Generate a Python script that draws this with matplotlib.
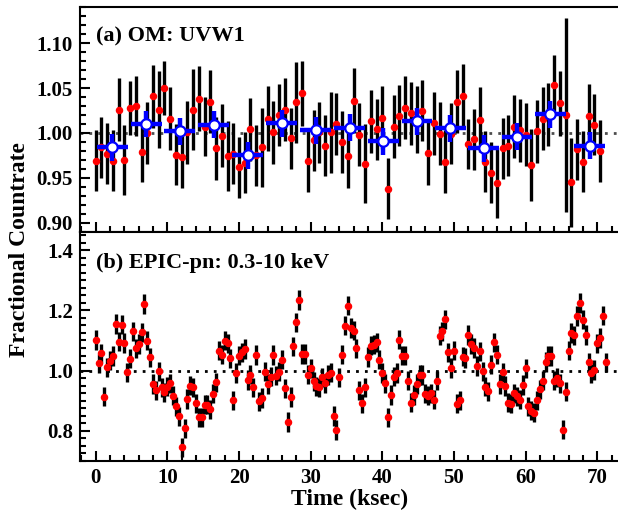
import matplotlib
matplotlib.use("Agg")
import matplotlib.pyplot as plt
from matplotlib.ticker import MultipleLocator, FormatStrFormatter

plt.rcParams['font.family'] = ['Liberation Serif', 'DejaVu Serif']
plt.rcParams['font.weight'] = 'bold'

# (a) OM UVW1 light curve
time_om = [0.0, 0.8, 1.6, 2.4, 3.2, 4.0, 4.8, 5.6, 6.4, 7.2,
           8.0, 8.8, 9.6, 10.4, 11.2, 12.0, 12.8, 13.6, 14.4, 15.2,
           16.0, 16.8, 17.6, 18.4, 19.2, 20.0, 20.8, 21.6, 22.4, 23.2,
           24.0, 24.8, 25.6, 26.4, 27.2, 28.0, 28.8, 29.6, 30.4, 31.2,
           32.0, 32.8, 33.6, 34.4, 35.2, 36.0, 36.8, 37.6, 38.4, 39.2,
           40.0, 40.8, 41.6, 42.4, 43.2, 44.0, 44.8, 45.6, 46.4, 47.2,
           48.0, 48.8, 49.6, 50.4, 51.2, 52.0, 52.8, 53.6, 54.4, 55.2,
           56.0, 56.8, 57.6, 58.4, 59.2, 60.0, 60.8, 61.6, 62.4, 63.2,
           64.0, 64.8, 65.6, 66.4, 67.2, 68.0, 68.8, 69.6, 70.4]
rate_om = [0.969, 0.984, 0.977, 0.969, 1.026, 0.970, 1.028, 1.030, 0.979, 1.000,
           1.041, 1.026, 1.050, 1.016, 0.976, 0.973, 1.001, 1.026, 1.038, 1.007,
           1.035, 0.983, 0.997, 0.974, 0.977, 0.962, 0.967, 1.004, 0.975, 0.984,
           1.016, 1.001, 1.020, 1.026, 0.994, 1.034, 1.044, 0.969, 0.992, 1.001,
           0.986, 1.001, 1.010, 0.990, 0.974, 1.036, 0.998, 0.966, 1.013, 1.004,
           1.017, 0.938, 1.007, 1.019, 1.028, 1.022, 1.015, 1.025, 0.978, 1.011,
           0.999, 0.968, 0.999, 1.035, 1.041, 0.988, 0.993, 1.015, 0.968, 0.956,
           0.944, 0.983, 0.986, 1.007, 1.003, 0.998, 0.964, 1.002, 1.016, 1.021,
           1.053, 1.033, 1.020, 0.945, 0.982, 0.968, 1.019, 1.009, 0.980]
err_om = [0.034, 0.034, 0.034, 0.034, 0.035, 0.039, 0.030, 0.033, 0.034, 0.035,
          0.035, 0.043, 0.030, 0.035, 0.034, 0.034, 0.035, 0.045, 0.036, 0.033,
          0.035, 0.035, 0.035, 0.039, 0.034, 0.034, 0.034, 0.035, 0.034, 0.044,
          0.036, 0.035, 0.035, 0.035, 0.034, 0.045, 0.036, 0.035, 0.034, 0.034,
          0.034, 0.045, 0.035, 0.034, 0.035, 0.036, 0.035, 0.044, 0.035, 0.034,
          0.035, 0.034, 0.035, 0.034, 0.035, 0.035, 0.037, 0.034, 0.036, 0.035,
          0.035, 0.035, 0.034, 0.035, 0.036, 0.028, 0.034, 0.036, 0.034, 0.034,
          0.039, 0.034, 0.034, 0.035, 0.035, 0.035, 0.040, 0.035, 0.035, 0.035,
          0.034, 0.036, 0.108, 0.049, 0.034, 0.034, 0.036, 0.034, 0.034]

# binned OM points
time_bin = [2.32, 7.07, 11.72, 16.46, 21.2, 25.94, 30.68, 35.43, 40.12, 44.86,
            49.5, 54.16, 58.8, 63.46, 68.94]
rate_bin = [0.984, 1.010, 1.002, 1.009, 0.975, 1.011, 1.003, 1.006, 0.991, 1.013,
            1.005, 0.983, 0.996, 1.021, 0.986]
xerr_bin = [2.15, 2.15, 2.15, 2.15, 2.15, 2.15, 2.15, 2.15, 2.15, 2.15,
            2.15, 2.15, 2.15, 2.15, 2.15]
yerr_bin = [0.015, 0.015, 0.015, 0.015, 0.015, 0.015, 0.015, 0.015, 0.015, 0.015,
            0.015, 0.015, 0.015, 0.015, 0.015]

# (b) EPIC-pn 0.3-10 keV light curve
time_pn = [0.0, 0.4, 0.8, 1.2, 1.6, 2.0, 2.4, 2.8, 3.2, 3.6,
           4.0, 4.4, 4.8, 5.2, 5.6, 6.0, 6.4, 6.8, 7.2, 7.6,
           8.0, 8.4, 8.8, 9.2, 9.6, 10.0, 10.4, 10.8, 11.2, 11.6,
           12.0, 12.4, 12.8, 13.2, 13.6, 14.0, 14.4, 14.8, 15.2, 15.6,
           16.0, 16.4, 16.8, 17.2, 17.6, 18.0, 18.4, 18.8, 19.2, 19.6,
           20.0, 20.4, 20.8, 21.2, 21.6, 22.0, 22.4, 22.8, 23.2, 23.6,
           24.0, 24.4, 24.8, 25.2, 25.6, 26.0, 26.4, 26.8, 27.2, 27.6,
           28.0, 28.4, 28.8, 29.2, 29.6, 30.0, 30.4, 30.8, 31.2, 31.6,
           32.0, 32.4, 32.8, 33.2, 33.6, 34.0, 34.4, 34.8, 35.2, 35.6,
           36.0, 36.4, 36.8, 37.2, 37.6, 38.0, 38.4, 38.8, 39.2, 39.6,
           40.0, 40.4, 40.8, 41.2, 41.6, 42.0, 42.4, 42.8, 43.2, 43.6,
           44.0, 44.4, 44.8, 45.2, 45.6, 46.0, 46.4, 46.8, 47.2, 47.6,
           48.0, 48.4, 48.8, 49.2, 49.6, 50.0, 50.4, 50.8, 51.2, 51.6,
           52.0, 52.4, 52.8, 53.2, 53.6, 54.0, 54.4, 54.8, 55.2, 55.6,
           56.0, 56.4, 56.8, 57.2, 57.6, 58.0, 58.4, 58.8, 59.2, 59.6,
           60.0, 60.4, 60.8, 61.2, 61.6, 62.0, 62.4, 62.8, 63.2, 63.6,
           64.0, 64.4, 64.8, 65.2, 65.6, 66.0, 66.4, 66.8, 67.2, 67.6,
           68.0, 68.4, 68.8, 69.2, 69.6, 70.0, 70.4, 70.8, 71.2]
rate_pn = [1.102, 1.024, 1.057, 0.914, 1.011, 1.033, 1.048, 1.155, 1.096, 1.152,
           1.092, 0.994, 1.039, 1.130, 1.074, 1.088, 1.127, 1.221, 1.099, 1.044,
           0.956, 0.934, 0.998, 0.945, 0.928, 0.947, 0.958, 0.917, 0.882, 0.848,
           0.746, 0.809, 0.906, 0.950, 0.945, 0.892, 0.845, 0.845, 0.887, 0.887,
           0.871, 0.923, 0.961, 1.066, 1.053, 1.099, 1.091, 1.041, 0.901, 0.992,
           1.050, 1.061, 1.072, 0.969, 0.987, 0.945, 1.052, 0.898, 0.909, 0.997,
           0.956, 0.980, 1.052, 0.983, 0.997, 1.036, 0.941, 0.829, 0.912, 1.080,
           1.160, 1.234, 1.055, 1.055, 0.987, 1.008, 0.964, 0.948, 0.945, 0.978,
           0.958, 0.985, 0.993, 0.849, 0.803, 0.978, 1.053, 1.149, 1.215, 1.141,
           1.133, 1.074, 0.934, 0.892, 0.945, 1.045, 1.083, 1.086, 1.094, 1.036,
           0.992, 0.958, 0.845, 0.919, 0.980, 0.992, 1.103, 1.049, 1.050, 0.966,
           0.893, 0.919, 0.956, 0.985, 0.985, 0.923, 0.917, 0.925, 0.903, 0.967,
           1.116, 1.130, 1.170, 1.061, 1.009, 1.066, 0.890, 0.901, 1.046, 1.042,
           1.118, 1.088, 1.075, 1.015, 1.064, 0.998, 0.947, 0.931, 1.020, 1.094,
           1.053, 0.956, 0.994, 0.949, 0.893, 0.890, 0.925, 0.915, 0.903, 0.952,
           1.007, 0.882, 0.867, 0.860, 0.901, 0.938, 0.967, 1.029, 1.048, 1.048,
           0.967, 0.976, 0.958, 0.804, 0.930, 1.066, 1.125, 1.117, 1.181, 1.224,
           1.169, 1.118, 1.028, 0.991, 1.002, 1.090, 1.108, 1.182, 1.028]
err_pn = 0.032

fig = plt.figure(figsize=(6.18, 5.12), dpi=100)
ax1 = fig.add_axes([0.1294, 0.5469, 0.874, 0.4394])
ax2 = fig.add_axes([0.1294, 0.0996, 0.874, 0.4473])

ax1.axhline(1.0, color='0.3', ls=(0, (1, 2.2)), lw=2, zorder=1)
ax1.errorbar(time_om, rate_om, yerr=err_om, fmt='o', color='red', ms=4.4,
             ecolor='black', elinewidth=2.4, capsize=0, zorder=2)
ax1.errorbar(time_bin, rate_bin, xerr=xerr_bin, yerr=yerr_bin, fmt='o', ms=7.5,
             mfc='white', mec='blue', mew=1.6, ecolor='blue', elinewidth=3.2,
             capsize=0, zorder=3)

ax2.axhline(1.0, color='black', ls=(0, (1, 2.2)), lw=2, zorder=1)
ax2.errorbar(time_pn, rate_pn, yerr=err_pn, fmt='o', color='red', ms=4.4,
             ecolor='black', elinewidth=2.4, capsize=0, zorder=2)

ax1.set_ylim(0.89, 1.14)
ax2.set_ylim(0.70, 1.46)
for ax in (ax1, ax2):
    ax.set_xlim(-2.2, 73.2)
    ax.xaxis.set_major_locator(MultipleLocator(10))
    ax.xaxis.set_minor_locator(MultipleLocator(2))
    ax.tick_params(which='both', direction='in', top=False, right=False,
                   width=1.5, labelsize=15, pad=5)
    ax.tick_params(which='major', length=7.5)
    ax.tick_params(which='minor', length=4.3)
    for sp in ax.spines.values():
        sp.set_linewidth(1.5)

ax1.yaxis.set_major_locator(MultipleLocator(0.05))
ax1.yaxis.set_minor_locator(MultipleLocator(0.01))
ax1.yaxis.set_major_formatter(FormatStrFormatter('%.2f'))
ax1.tick_params(axis='x', labelbottom=False)
ax2.yaxis.set_major_locator(MultipleLocator(0.2))
ax2.yaxis.set_minor_locator(MultipleLocator(0.025))
ax2.yaxis.set_major_formatter(FormatStrFormatter('%.1f'))

ax1.text(0.03, 0.915, '(a) OM: UVW1', transform=ax1.transAxes, fontsize=16,
         fontweight='bold', va='top', ha='left')
ax2.text(0.03, 0.91, '(b) EPIC-pn: 0.3-10 keV', transform=ax2.transAxes,
         fontsize=16, fontweight='bold', va='top', ha='left')

ax2.set_xlabel('Time (ksec)', fontsize=17, fontweight='bold', labelpad=1)
fig.text(0.032, 0.512, 'Fractional Countrate', rotation=90, ha='center',
         va='center', fontsize=17, fontweight='bold')

fig.savefig('out.png', dpi=100)
